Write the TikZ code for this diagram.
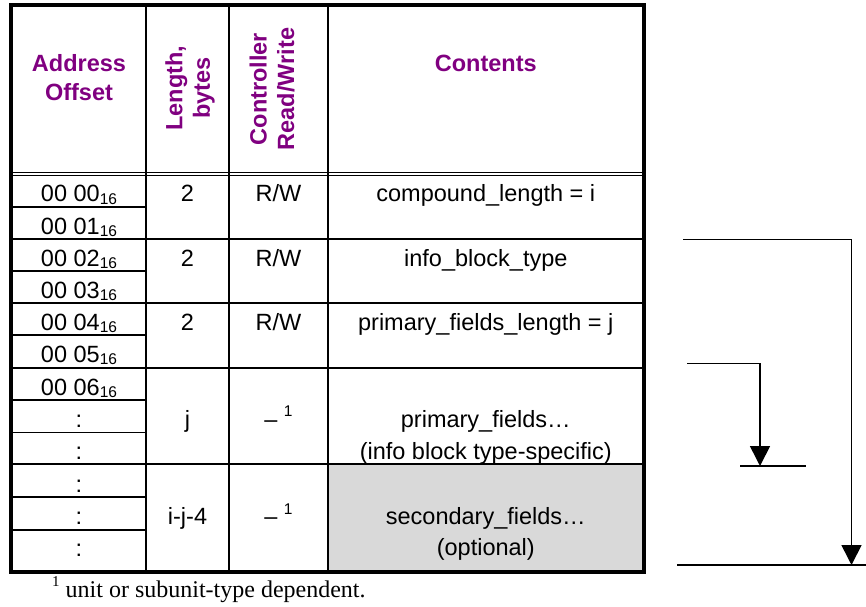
\documentclass[tikz,border=0pt]{standalone}
\usepackage{fontspec}
\setmainfont{Liberation Sans}
\newfontfamily\fnserif{Liberation Serif}
\usetikzlibrary{arrows.meta}
\definecolor{hdrpurple}{HTML}{800080}
\definecolor{optgrey}{HTML}{D9D9D9}
\newcommand\hexoff[1]{00 #1\raisebox{-2.5pt}{\fontsize{15.5}{16}\selectfont 16}}
\newcommand\dashnote{–\ \raisebox{10.5pt}{\fontsize{15.5}{16}\selectfont 1}}
\begin{document}
\begin{tikzpicture}[x=1pt,y=-1pt,
  txt/.style={inner sep=0pt, anchor=base, font=\fontsize{23.5}{28}\selectfont},
  hd/.style={inner sep=0pt, font=\fontsize{23.5}{27.5}\selectfont\bfseries, text=hdrpurple, align=center},
  gridline/.style={line width=1.7pt},
  dblline/.style={line width=1.3pt},
  frame/.style={line width=4pt},
  conn/.style={line width=1.6pt},
  tipped/.style={-{Triangle[width=20pt,length=20pt]}}
]
\useasboundingbox (0,0) rectangle (866,606);
% grey optional area
\fill[optgrey] (328,464) rectangle (643.7,571.5);
% vertical column lines
\draw[gridline] (146,5) -- (146,571.5);
\draw[gridline] (229,5) -- (229,571.5);
\draw[gridline] (328,5) -- (328,571.5);
% header double line
\draw[dblline] (11,172.7) -- (643.7,172.7);
\draw[dblline] (11,175.3) -- (643.7,175.3);
% full row lines
\foreach \yy in {239,303,368,464}{\draw[gridline] (11,\yy) -- (643.7,\yy);}
% address sub-row lines
\foreach \yy in {207.3,271,335,400,432.5,497.3,530}{\draw[gridline] (11,\yy) -- (146,\yy);}
% outer frame
\draw[frame] (11,5) rectangle (643.7,571.5);

% header
\node[hd, anchor=base] (hAddr) at (79,71.7) {Address};
\node[hd, anchor=base] (hOff) at (79,100) {Offset};
\node[hd, rotate=90] (hLen) at (190,88) {Length,\\bytes};
\node[hd, rotate=90] (hRW) at (272,89) {Controller\\Read/Write};
\node[hd, anchor=base] (hCont) at (485.8,71.7) {Contents};

% address column
\node[txt] (a0) at (79,201.7) {\hexoff{00}};
\node[txt] (a1) at (79,234) {\hexoff{01}};
\node[txt] (a2) at (79,266) {\hexoff{02}};
\node[txt] (a3) at (79,298) {\hexoff{03}};
\node[txt] (a4) at (79,330) {\hexoff{04}};
\node[txt] (a5) at (79,362) {\hexoff{05}};
\node[txt] (a6) at (79,395) {\hexoff{06}};
\node[txt] (a7) at (79,427) {:};
\node[txt] (a8) at (79,459) {:};
\node[txt] (a9) at (79,492) {:};
\node[txt] (a10) at (79,524.5) {:};
\node[txt] (a11) at (79,556) {:};

% length column
\node[txt] (l1) at (187.5,201.7) {2};
\node[txt] (l2) at (187.5,266) {2};
\node[txt] (l3) at (187.5,330) {2};
\node[txt] (l4) at (187.5,427) {j};
\node[txt] (l5) at (187.5,524.5) {i-j-4};

% read/write column
\node[txt] (r1) at (278.5,201.7) {R/W};
\node[txt] (r2) at (278.5,266) {R/W};
\node[txt] (r3) at (278.5,330) {R/W};
\node[txt] (r4) at (278.5,427) {\dashnote};
\node[txt] (r5) at (278.5,524.5) {\dashnote};

% contents column
\node[txt] (c1) at (485.8,201.7) {compound\_length = i};
\node[txt] (c2) at (485.8,266) {info\_block\_type};
\node[txt] (c3) at (485.8,330) {primary\_fields\_length = j};
\node[txt] (c4) at (485.8,427) {primary\_fields…};
\node[txt] (c5) at (485.8,459) {(info block type-specific)};
\node[txt] (c6) at (485.8,524.5) {secondary\_fields…};
\node[txt] (c7) at (485.8,555) {(optional)};

% footnote
\node[inner sep=0pt, anchor=base west, font=\fnserif\fontsize{24}{28}\selectfont] (fn) at (52,597)
  {\raisebox{11pt}{\fontsize{15}{16}\selectfont 1} unit or subunit-type dependent.};

% right-hand arrows
\coordinate (p1s) at (683,239.3);
\coordinate (p1c) at (851.5,239.3);
\coordinate (p1e) at (851.5,565);
\coordinate (b1l) at (677,565);
\coordinate (b1r) at (866,565);
\coordinate (p2s) at (687,363.3);
\coordinate (p2c) at (760,363.3);
\coordinate (p2e) at (760,466);
\coordinate (b2l) at (740,466);
\coordinate (b2r) at (806,466);
\draw[conn, tipped] (p1s) -- (p1c) -- (p1e);
\draw[conn] (b1l) -- (b1r);
\draw[conn, tipped] (p2s) -- (p2c) -- (p2e);
\draw[conn] (b2l) -- (b2r);
\end{tikzpicture}
\end{document}
